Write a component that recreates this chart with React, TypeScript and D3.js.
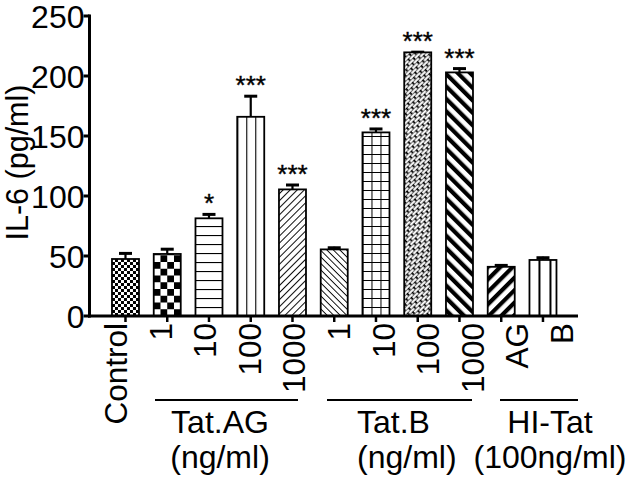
import React from "react";
import * as d3 from "d3";

// ---- data ----
const categories = ["Control", "AG-1", "AG-10", "AG-100", "AG-1000", "B-1", "B-10", "B-100", "B-1000", "HI-AG", "HI-B"];
const tickLabels = ["Control", "1", "10", "100", "1000", "1", "10", "100", "1000", "AG", "B"];
const means = [47.5, 51.7, 81.4, 166, 105.5, 55.5, 153, 219.7, 203, 41, 46.7];
const errors = [5.5, 4.8, 4.1, 18, 4.5, 2.2, 3.7, 1, 4, 2, 2.7];
const stars = ["", "", "*", "***", "***", "", "***", "***", "***", "", ""];
const patternKinds = ["checkFine", "checkBig", "hLines", "vLines", "diagUp", "diagDown", "grid", "weave", "diagDownThick", "diagUpThick", "vThick"];
const yTicks = [0, 50, 100, 150, 200, 250];
const groupNames = ["Tat.AG", "Tat.B", "HI-Tat"];
const groupUnits = ["(ng/ml)", "(ng/ml)", "(100ng/ml)"];

// ---- layout ----
const W = 631, H = 480;
const FONT = "Arial, 'Liberation Sans', sans-serif";
const axisLeft = 89.5, axisRight = 578, yBottom = 316, yTop = 16;
const groupLayout = [
  { x1: 155, x2: 298, tx: 220, anchor: "middle" },
  { x1: 327, x2: 472, tx: 357, anchor: "start" },
  { x1: 500, x2: 578, tx: 550, anchor: "middle" },
];

function Pattern({ id, kind, x, y }: { id: string; kind: string; x: number; y: number }) {
  const bg = <rect x={-50} y={-50} width={100} height={100} fill="#fff" />;
  switch (kind) {
    case "checkFine":
      return (
        <pattern id={id} patternUnits="userSpaceOnUse" x={x} y={y} width={6} height={6}>
          {bg}
          <rect x={0} y={0} width={3} height={3} fill="#000" />
          <rect x={3} y={3} width={3} height={3} fill="#000" />
        </pattern>
      );
    case "checkBig":
      return (
        <pattern id={id} patternUnits="userSpaceOnUse" x={x} y={y} width={13.5} height={13.5}>
          {bg}
          <rect x={0} y={0} width={6.75} height={6.75} fill="#000" />
          <rect x={6.75} y={6.75} width={6.75} height={6.75} fill="#000" />
        </pattern>
      );
    case "hLines":
      return (
        <pattern id={id} patternUnits="userSpaceOnUse" x={x} y={y} width={30} height={9}>
          {bg}
          <line x1={0} x2={30} y1={0} y2={0} stroke="#000" strokeWidth={2.2} />
        </pattern>
      );
    case "vLines":
      return (
        <pattern id={id} patternUnits="userSpaceOnUse" x={x} y={y} width={9} height={10}>
          {bg}
          <line x1={0} x2={0} y1={0} y2={10} stroke="#000" strokeWidth={2.2} />
        </pattern>
      );
    case "grid":
      return (
        <pattern id={id} patternUnits="userSpaceOnUse" x={x} y={y} width={9} height={9}>
          {bg}
          <line x1={0} x2={0} y1={0} y2={9} stroke="#000" strokeWidth={2} />
          <line x1={0} x2={9} y1={0} y2={0} stroke="#000" strokeWidth={2} />
        </pattern>
      );
    case "diagUp":
      return (
        <pattern id={id} patternUnits="userSpaceOnUse" x={x} y={y} width={5} height={5} patternTransform="rotate(45)">
          {bg}
          <line x1={0} x2={0} y1={0} y2={5} stroke="#000" strokeWidth={1.9} />
        </pattern>
      );
    case "diagDown":
      return (
        <pattern id={id} patternUnits="userSpaceOnUse" x={x} y={y} width={4.6} height={5} patternTransform="rotate(-45)">
          {bg}
          <line x1={0} x2={0} y1={0} y2={5} stroke="#000" strokeWidth={1.8} />
        </pattern>
      );
    case "diagDownThick":
      return (
        <pattern id={id} patternUnits="userSpaceOnUse" x={x} y={y} width={8.8} height={5} patternTransform="rotate(-45)">
          {bg}
          <rect x={0} y={0} width={4.2} height={5} fill="#000" />
        </pattern>
      );
    case "diagUpThick":
      return (
        <pattern id={id} patternUnits="userSpaceOnUse" x={x} y={y} width={8.8} height={5} patternTransform="rotate(45)">
          {bg}
          <rect x={0} y={0} width={4.2} height={5} fill="#000" />
        </pattern>
      );
    case "vThick":
      return (
        <pattern id={id} patternUnits="userSpaceOnUse" x={x} y={y} width={11} height={10}>
          {bg}
          <rect x={9} y={0} width={3.6} height={10} fill="#000" />
        </pattern>
      );
    case "weave":
    default:
      return (
        <pattern id={id} patternUnits="userSpaceOnUse" x={x} y={y} width={9} height={5.6} patternTransform="rotate(-45)">
          <rect x={-5} y={-5} width={20} height={20} fill="#000" />
          <rect x={1} y={0.5} width={7.2} height={2.2} fill="#fff" />
          <rect x={-3.5} y={3.3} width={7.2} height={2.2} fill="#fff" />
          <rect x={5.5} y={3.3} width={7.2} height={2.2} fill="#fff" />
        </pattern>
      );
  }
}

export default function App() {
  const x = d3
    .scaleBand<string>()
    .domain(categories)
    .range([axisLeft - 1.5, axisRight])
    .paddingInner(0.353)
    .paddingOuter(0.545)
    .align(0.527);
  const xl = d3.scaleBand<string>().domain(categories).range([91, 581]);
  const y = d3.scaleLinear().domain([0, 250]).range([yBottom, yTop]);
  const bw = x.bandwidth();

  return (
    <svg width={W} height={H} viewBox={`0 0 ${W} ${H}`} style={{ display: "block", position: "absolute", left: 0, top: 0, background: "#fff" }} fontFamily={FONT}>
      <rect x={0} y={0} width={W} height={H} fill="#fff" />
      <defs>
        {categories.map((c, i) => (
          <Pattern key={c} id={`pat-${i}`} kind={patternKinds[i]} x={x(c)!} y={yBottom} />
        ))}
      </defs>

      {/* bars */}
      {categories.map((c, i) => {
        const bx = x(c)!;
        const cx = bx + bw / 2;
        const top = y(means[i]);
        const etop = y(means[i] + errors[i]);
        return (
          <g key={c}>
            <line x1={cx} x2={cx} y1={top} y2={etop} stroke="#000" strokeWidth={2.2} />
            <line x1={cx - 6.5} x2={cx + 6.5} y1={etop + 1} y2={etop + 1} stroke="#000" strokeWidth={3} />
            <rect x={bx} y={top} width={bw} height={yBottom - top} fill={`url(#pat-${i})`} stroke="#000" strokeWidth={1.8} />
            {stars[i] && (
              <text x={cx} y={etop - 1} textAnchor="middle" fontSize={26} fill="#000" stroke="#000" strokeWidth={0.4}>
                {stars[i]}
              </text>
            )}
          </g>
        );
      })}

      {/* y axis */}
      <line x1={axisLeft} x2={axisLeft} y1={yTop - 1.5} y2={yBottom + 1.5} stroke="#000" strokeWidth={3} />
      {yTicks.map((t) => (
        <g key={t}>
          <line x1={axisLeft - 6} x2={axisLeft} y1={y(t)} y2={y(t)} stroke="#000" strokeWidth={3} />
          <text x={axisLeft - 5} y={y(t)} dy="0.36em" textAnchor="end" fontSize={32} fill="#000">
            {t}
          </text>
        </g>
      ))}
      <text transform={`translate(27.5,${(80 + 245) / 2}) rotate(-90)`} textAnchor="middle" fontSize={30.5} fill="#000">
        IL-6 (pg/ml)
      </text>

      {/* x axis */}
      <line x1={axisLeft - 1.5} x2={axisRight} y1={yBottom} y2={yBottom} stroke="#000" strokeWidth={3} />
      {categories.map((c, i) => {
        const cx = x(c)! + bw / 2;
        const lx = xl(c)! + xl.bandwidth() / 2 + 2.5;
        return (
          <g key={c}>
            <line x1={cx} x2={cx} y1={yBottom} y2={yBottom + 6} stroke="#000" strokeWidth={2.5} />
            <text transform={`translate(${lx + 11.5},323) rotate(-90)`} textAnchor="end" fontSize={31.5} fill="#000">
              {tickLabels[i]}
            </text>
          </g>
        );
      })}

      {/* group annotations */}
      {groupNames.map((g, i) => {
        const L = groupLayout[i];
        return (
          <g key={g}>
            <line x1={L.x1} x2={L.x2} y1={400} y2={400} stroke="#000" strokeWidth={2.2} />
            <text x={L.tx} y={433} textAnchor={L.anchor as any} fontSize={32} fill="#000">
              {g}
            </text>
            <text x={L.tx} y={468} textAnchor={L.anchor as any} fontSize={32} fill="#000">
              {groupUnits[i]}
            </text>
          </g>
        );
      })}
    </svg>
  );
}
